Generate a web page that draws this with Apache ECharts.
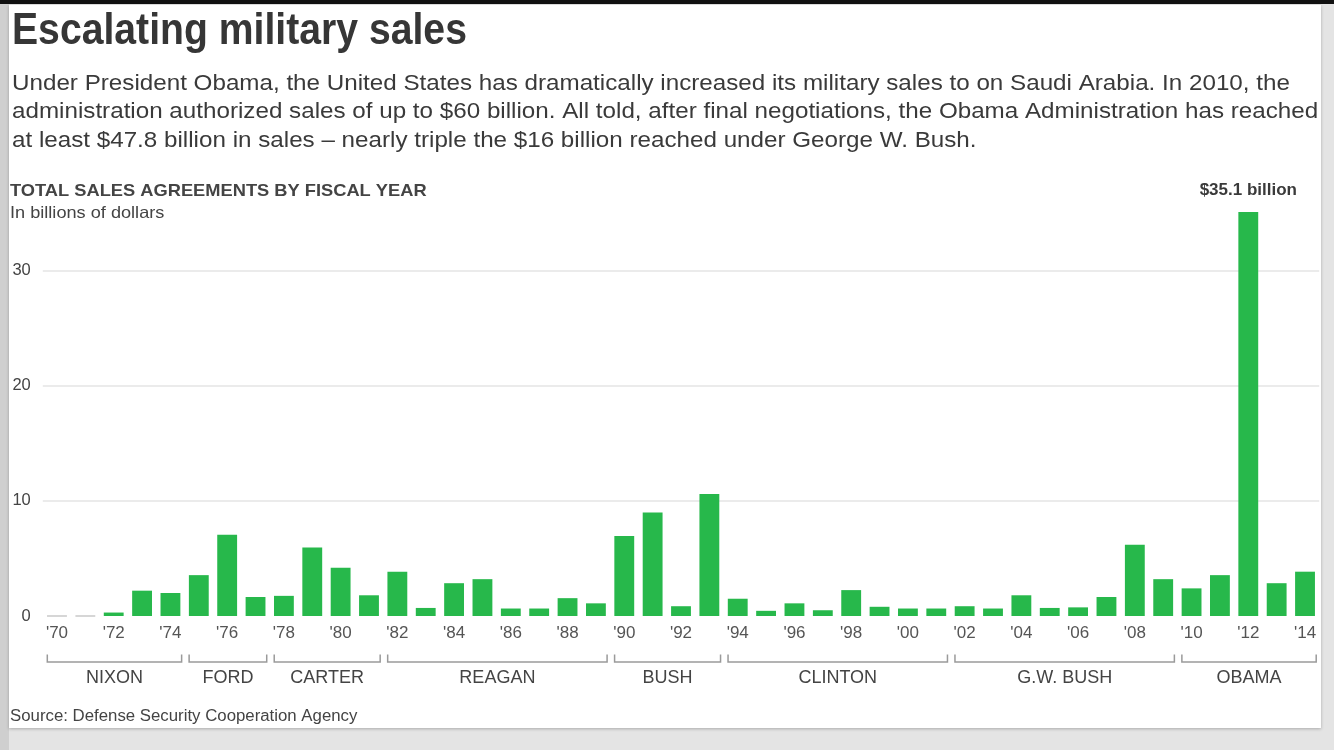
<!DOCTYPE html>
<html>
<head>
<meta charset="utf-8">
<script src="https://cdn.jsdelivr.net/npm/echarts@6/dist/echarts.min.js"></script>
<style>
  html, body { margin: 0; padding: 0; background: #e4e4e4; overflow: hidden; }
  .topbar { position: absolute; left: 0; top: 0; width: 1334px; height: 4px; background: #111; }
  .leftbar { position: absolute; left: 0; top: 4px; width: 9px; height: 746px; background: #cfcfcf; }
  .panel { position: absolute; left: 9px; top: 5px; width: 1312px; height: 723px; background: #fff;
           box-shadow: 0 1px 3px rgba(0,0,0,0.25); }
  .chart { position: absolute; left: 0; top: 0; width: 1334px; height: 750px; }
</style>
</head>
<body>
<div class="topbar"></div>
<div class="leftbar"></div>
<div class="panel"></div>
<div class="chart"></div>
<script>
// 数据
var years = [];
for (var y = 1970; y <= 2014; y++) years.push(String(y));

var sales = [0, 0, 0.3, 2.2, 2.0, 3.55, 7.05, 1.65, 1.75, 5.95,
             4.2, 1.8, 3.85, 0.7, 2.85, 3.2, 0.65, 0.65, 1.55, 1.1,
             6.95, 9.0, 0.85, 10.6, 1.5, 0.45, 1.1, 0.5, 2.25, 0.8,
             0.65, 0.65, 0.85, 0.65, 1.8, 0.7, 0.75, 1.65, 6.2, 3.2,
             2.4, 3.55, 35.1, 2.85, 3.85];

var presidents = ['NIXON', 'FORD', 'CARTER', 'REAGAN', 'BUSH', 'CLINTON', 'G.W. BUSH', 'OBAMA'];
var termStart = [1970, 1975, 1978, 1982, 1990, 1994, 2002, 2010];
var termEnd   = [1974, 1977, 1981, 1989, 1993, 2001, 2009, 2014];

var yTicks = [0, 10, 20, 30];
var peakLabel = '$35.1 billion';

var title = 'Escalating military sales';
var intro = [
  'Under President Obama, the United States has dramatically increased its military sales to on Saudi Arabia. In 2010, the',
  'administration authorized sales of up to $60 billion. All told, after final negotiations, the Obama Administration has reached',
  'at least $47.8 billion in sales \u2013 nearly triple the $16 billion reached under George W. Bush.'
];
var chartHead = 'TOTAL SALES AGREEMENTS BY FISCAL YEAR';
var unitNote = 'In billions of dollars';
var source = 'Source: Defense Security Cooperation Agency';

var FONT = '"Liberation Sans", Arial, Helvetica, sans-serif';
var GREEN = '#27b84b';

var barData = sales.map(function (v, i) {
  if (v === 0) {
    return { value: 0, itemStyle: { color: '#d6d6d6', borderColor: '#d6d6d6', borderWidth: 2 } };
  }
  if (v === Math.max.apply(null, sales)) {
    return {
      value: v,
      label: {
        show: true, position: 'top', distance: 13, formatter: peakLabel,
        fontFamily: FONT, fontWeight: 'bold', fontSize: 17, color: '#3a3a3a'
      }
    };
  }
  return v;
});

var terms = presidents.map(function (p, i) {
  return [years.indexOf(String(termStart[i])), years.indexOf(String(termEnd[i]))];
});

var chart = echarts.init(document.querySelector('.chart'));

// 文字（横向略拉伸以贴近原图字形）
function txt(str, x, y, font, fill, sx) {
  return { type: 'text', x: x, y: y, scaleX: sx || 1,
    style: { text: str, font: font, fill: fill, verticalAlign: 'middle' } };
}
var texts = [txt(title, 12, 32, 'bold 44px ' + FONT, '#363636', 0.89)];
intro.forEach(function (line, i) {
  texts.push(txt(line, 12, 83.5 + i * 28.8, '22px ' + FONT, '#3a3a3a', 1.1));
});
texts.push(txt(chartHead, 10, 191, 'bold 17px ' + FONT, '#444', 1.075));
texts.push(txt(unitNote, 10, 213, '16.5px ' + FONT, '#444', 1.1));
texts.push(txt(source, 10, 717, '16px ' + FONT, '#444', 1.05));

var option = {
  animation: false,
  backgroundColor: 'transparent',
  graphic: texts,
  grid: { left: 42.8, right: 14.8, top: 212, bottom: 134, outerBoundsMode: 'none' },
  xAxis: {
    type: 'category',
    data: years,
    axisLine: { show: false },
    axisTick: { show: false },
    axisLabel: {
      interval: 1, margin: 9, fontFamily: FONT, fontSize: 17, color: '#555',
      formatter: function (v) { return "'" + v.slice(2); }
    }
  },
  yAxis: {
    type: 'value',
    min: 0,
    max: 35.1,
    interval: 10,
    axisLine: { show: false },
    axisTick: { show: false },
    axisLabel: {
      showMaxLabel: false, margin: 12, fontFamily: FONT, fontSize: 16.5, color: '#444',
      formatter: function (v) { return yTicks.indexOf(v) >= 0 ? String(v) : ''; }
    },
    splitLine: {
      show: true, showMinLine: false, showMaxLine: false,
      lineStyle: { color: '#e4e4e4', width: 1.5 }
    }
  },
  series: [
    {
      name: 'sales',
      type: 'bar',
      data: barData,
      barCategoryGap: '30%',
      itemStyle: { color: GREEN }
    },
    {
      name: 'terms',
      type: 'custom',
      data: terms,
      silent: true,
      renderItem: function (params, api) {
        var s = api.value(0), e = api.value(1);
        var p0 = api.coord([s, 0]);
        var p1 = api.coord([e, 0]);
        var bw = api.size([1, 0])[0];
        var x0 = p0[0] - bw / 2 + 4.5;
        var x1 = p1[0] + bw / 2 - 3;
        var yl = p0[1] + 46;
        return {
          type: 'group',
          children: [
            {
              type: 'polyline',
              shape: { points: [[x0, yl - 7.5], [x0, yl], [x1, yl], [x1, yl - 7.5]] },
              style: { stroke: '#9a9a9a', lineWidth: 1.5, fill: null }
            },
            {
              type: 'text',
              x: (x0 + x1) / 2,
              y: yl + 16,
              style: {
                text: presidents[params.dataIndex],
                font: '18px ' + FONT, fill: '#444',
                align: 'center', verticalAlign: 'middle'
              }
            }
          ]
        };
      }
    }
  ]
};

chart.setOption(option);
</script>
</body>
</html>
